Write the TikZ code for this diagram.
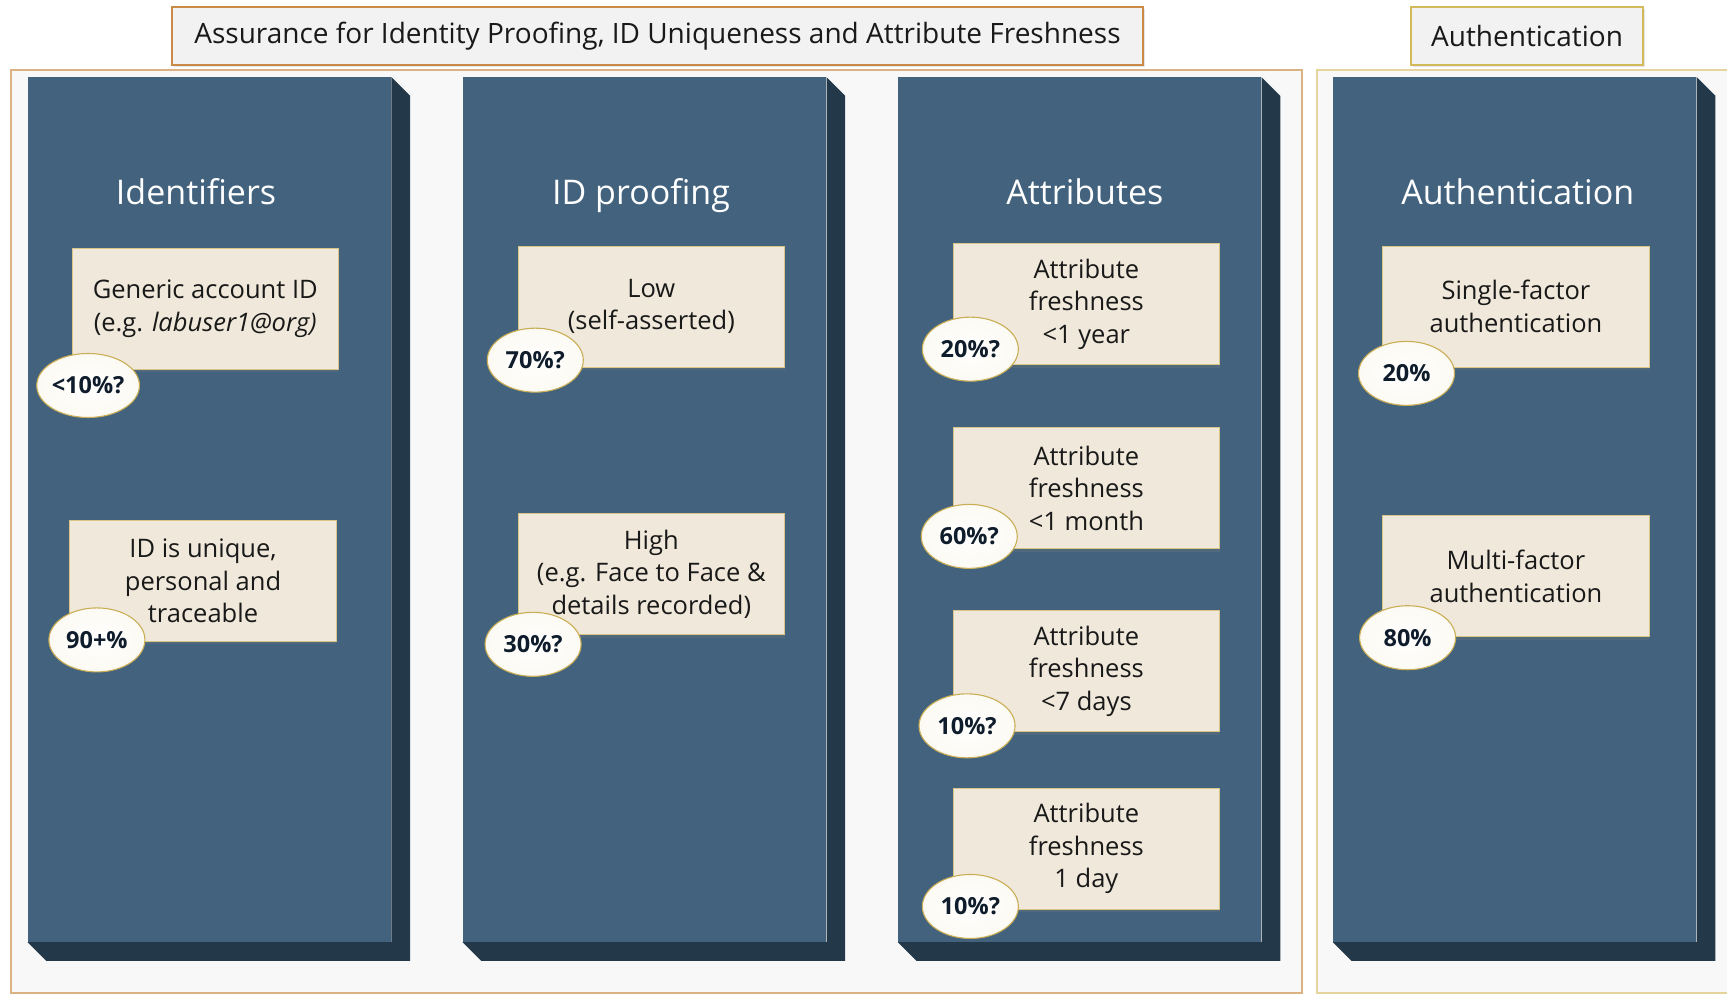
\documentclass[tikz,border=0pt]{standalone}
\usepackage{fontspec}
\setmainfont{Open Sans}
\usetikzlibrary{shapes.geometric,shadows,calc}
\definecolor{framebg}{HTML}{F8F8F8}
\definecolor{frameA}{HTML}{DDB283}
\definecolor{frameB}{HTML}{E5D49C}
\definecolor{titleA}{HTML}{C98B47}
\definecolor{titleB}{HTML}{D2BA5C}
\definecolor{titlebg}{HTML}{F2F2F2}
\definecolor{front}{HTML}{42627D}
\definecolor{side}{HTML}{233849}
\definecolor{cream}{HTML}{F0E9DB}
\definecolor{creamedge}{HTML}{D9C585}
\definecolor{ovaledge}{HTML}{C9AE55}
\definecolor{ovaltext}{HTML}{0E1C2B}
\definecolor{ovalout}{HTML}{FCFAF3}
\newcommand\extrude[1]{\fill[side] (#1.north east) -- ++(18.7pt,-18.7pt) |- ($(#1.south west)+(18.7pt,-18.7pt)$) -- (#1.south west) -- (#1.south east) -- cycle;}
\tikzset{
 colbox/.style={fill=front, draw=none, minimum width=363.5pt, minimum height=864.6pt, anchor=north west, inner sep=0pt},
 head/.style={text=white, font=\fontsize{34}{40}\selectfont, anchor=base},
 cbox/.style={fill=cream, draw=creamedge, line width=0.8pt, minimum width=266.5pt, minimum height=121pt, anchor=north west, align=center, font=\fontsize{25.5}{32.5}\selectfont, text=black!90, inner sep=0pt, drop shadow={shadow xshift=0pt, shadow yshift=-3pt, opacity=0.25}},
 oval/.style={ellipse, draw=ovaledge, line width=1.1pt, inner color=white, outer color=ovalout, minimum width=96pt, minimum height=64pt, inner sep=0pt, font=\bfseries\fontsize{23.5}{26}\selectfont, text=ovaltext},
 ttl/.style={fill=titlebg, line width=2pt, anchor=north west, inner sep=0pt, minimum height=58.4pt, font=\fontsize{28}{32}\selectfont, text=black!90, drop shadow={shadow xshift=2pt, shadow yshift=-2pt, opacity=0.2}},
 frm/.style={line width=2pt, fill=framebg},
}
\begin{document}
\begin{tikzpicture}[x=1.1014pt,y=-1.1014pt]
\useasboundingbox (0,0) rectangle (1568,904);
\fill[white] (0,0) rectangle (1568,904);
% frames
\draw[frm, draw=frameA] (10,64) rectangle (1182,902);
\draw[frm, draw=frameB] (1196,64) rectangle (1590,902);
% titles
\node[ttl, draw=titleA, minimum width=971.4pt] (t1) at (155,5) {Assurance for Identity Proofing, ID Uniqueness and Attribute Freshness};
\node[ttl, draw=titleB, minimum width=232.4pt] (t2) at (1280,5) {Authentication};
% columns
\node[colbox] (col1) at (25,70) {};
\node[colbox] (col2) at (420,70) {};
\node[colbox] (col3) at (815,70) {};
\node[colbox] (col4) at (1210,70) {};
\extrude{col1}\extrude{col2}\extrude{col3}\extrude{col4}
% headers
\node[head] (h1) at (178,186) {Identifiers};
\node[head] (h2) at (582,186) {ID proofing};
\node[head] (h3) at (985,186) {Attributes};
\node[head] (h4) at (1378,186) {Authentication};
% boxes
\node[cbox] (b1a) at (65,225) {Generic account ID\\(e.g. \textit{labuser1@org)}};
\node[cbox] (b1b) at (63,472) {ID is unique,\\personal and\\traceable};
\node[cbox] (b2a) at (470,223) {Low\\(self-asserted)};
\node[cbox] (b2b) at (470,466) {High\\(e.g. Face to Face \&\\details recorded)};
\node[cbox] (b3a) at (865,221) {Attribute\\freshness\\<1 year};
\node[cbox] (b3b) at (865,388) {Attribute\\freshness\\<1 month};
\node[cbox] (b3c) at (865,554) {Attribute\\freshness\\<7 days};
\node[cbox] (b3d) at (865,715) {Attribute\\freshness\\1 day};
\node[cbox] (b4a) at (1255,223) {Single-factor\\authentication};
\node[cbox] (b4b) at (1255,468) {Multi-factor\\authentication};
% ovals
\node[oval] (o1a) at (80,350) {<10\%?};
\node[oval] (o1b) at (88,581) {90+\%};
\node[oval] (o2a) at (486,327) {70\%?};
\node[oval] (o2b) at (484,585) {30\%?};
\node[oval] (o3a) at (881,317) {20\%?};
\node[oval] (o3b) at (880,487) {60\%?};
\node[oval] (o3c) at (878,659) {10\%?};
\node[oval] (o3d) at (881,823) {10\%?};
\node[oval] (o4a) at (1277,339) {20\%};
\node[oval] (o4b) at (1278,579) {80\%};
\end{tikzpicture}
\end{document}
